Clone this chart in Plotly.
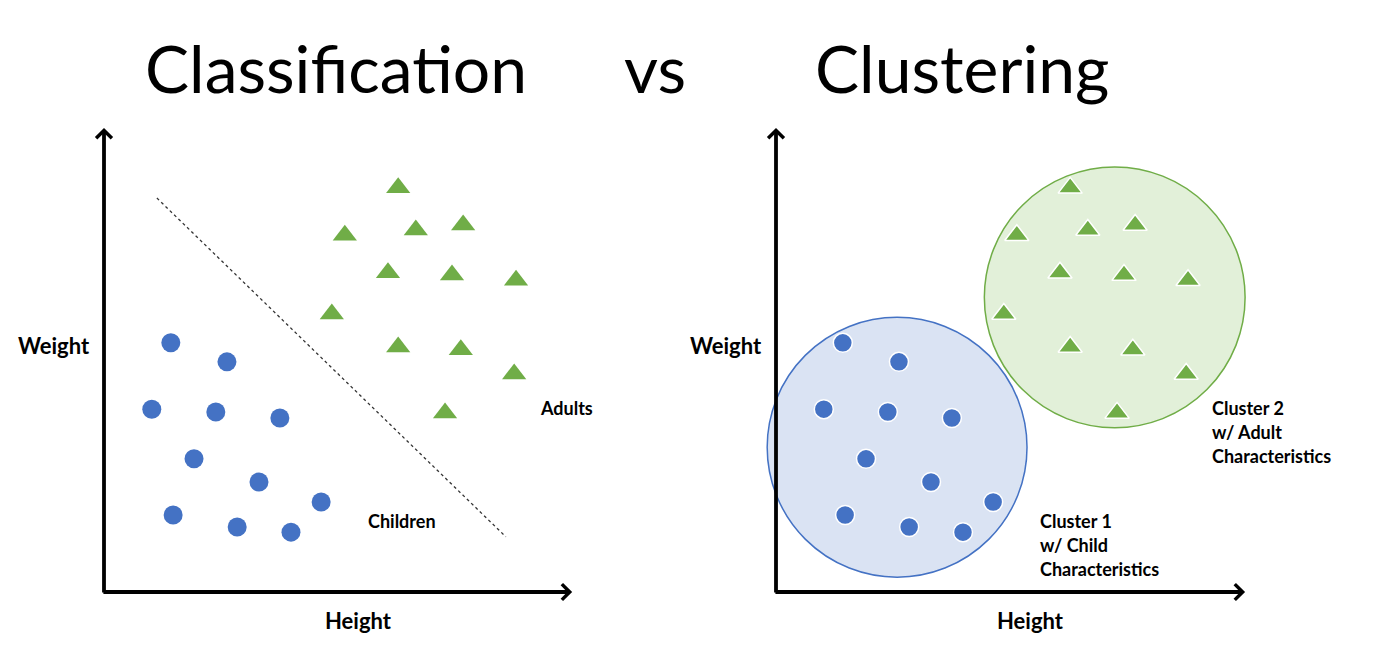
import plotly.graph_objects as go

# ---------------- data (Height / Weight, arbitrary units) ----------------
children_height = [14.4, 26.5, 10.3, 24.1, 37.9, 19.4, 33.4, 46.8, 14.9, 28.7, 40.3]
children_weight = [53.7, 49.6, 39.4, 38.8, 37.5, 28.7, 23.7, 19.4, 16.6, 14.0, 12.9]

adults_height = [63.4, 51.9, 67.2, 77.4, 61.2, 75.0, 88.8, 49.1, 63.4, 76.9, 88.4, 73.5]
adults_weight = [87.1, 76.9, 78.0, 79.1, 68.8, 68.3, 67.2, 59.9, 52.8, 52.2, 47.0, 38.6]

# decision boundary (classification)
boundary_height = [11.4, 86.6]
boundary_weight = [84.9, 11.9]

# clusters: centre (height, weight) and radius
cluster_names = ["Cluster 1", "Cluster 2"]
cluster_center_height = [26.1, 73.0]
cluster_center_weight = [31.2, 63.5]
cluster_radius = [28.0, 28.1]

# ---------------- styling / layout constants ----------------
W, H = 1400, 650
PX = 4.64                  # pixels per data unit
ORIGIN_L, ORIGIN_R, BASE = 104, 776, 592
PAD = 5
XMAX_L, XMAX_R, YMAX = 100.9, 101.1, 100.0

BLUE = "#4472C4"
GREEN = "#70AD47"
BLUE_FILL = "#DAE3F3"
GREEN_FILL = "#E2F0D9"
FONT = "Lato, 'Open Sans', sans-serif"

def xdom(origin):
    return [(origin - PAD * PX) / W, (origin + (100 + PAD) * PX) / W]

ydom = [(H - (BASE + PAD * PX)) / H, (H - (BASE - (100 + PAD) * PX)) / H]

def px_x(p):
    return p / W

def px_y(p):
    return (H - p) / H

fig = go.Figure()

for xa, ya, outline in (("x", "y", 0), ("x2", "y2", 1.5)):
    fig.add_trace(go.Scatter(
        x=children_height, y=children_weight, xaxis=xa, yaxis=ya,
        mode="markers", name="Children", showlegend=False,
        marker=dict(symbol="circle", size=19, color=BLUE,
                    line=dict(color="white", width=outline)),
        hoverinfo="skip"))
    fig.add_trace(go.Scatter(
        x=adults_height, y=adults_weight, xaxis=xa, yaxis=ya,
        mode="markers", name="Adults", showlegend=False,
        marker=dict(symbol="triangle-up", size=21, color=GREEN,
                    line=dict(color="white", width=outline)),
        hoverinfo="skip"))

fig.add_trace(go.Scatter(
    x=boundary_height, y=boundary_weight, xaxis="x", yaxis="y",
    mode="lines", showlegend=False, hoverinfo="skip",
    line=dict(color="#333333", width=1.3, dash="dot")))

# cluster circles
fills = [BLUE_FILL, GREEN_FILL]
lines = [BLUE, GREEN]
shapes = []
for i in range(len(cluster_names)):
    cx, cy, r = cluster_center_height[i], cluster_center_weight[i], cluster_radius[i]
    shapes.append(dict(type="circle", xref="x2", yref="y2",
                       x0=cx - r, x1=cx + r, y0=cy - r, y1=cy + r,
                       fillcolor=fills[i], line=dict(color=lines[i], width=1.5),
                       layer="below"))

annotations = []
# axis arrows
for xr, yr, xmax in (("x", "y", XMAX_L), ("x2", "y2", XMAX_R)):
    annotations.append(dict(x=xmax, y=0, ax=-0.45, ay=0, xref=xr, yref=yr,
                            axref=xr, ayref=yr, text="", showarrow=True,
                            arrowhead=4, arrowsize=0.8, arrowwidth=3.8,
                            arrowcolor="black"))
    annotations.append(dict(x=0, y=YMAX, ax=0, ay=-0.45, xref=xr, yref=yr,
                            axref=xr, ayref=yr, text="", showarrow=True,
                            arrowhead=4, arrowsize=0.8, arrowwidth=3.8,
                            arrowcolor="black"))

def label(text, xp, yp, size, xanchor="center"):
    annotations.append(dict(text=text, x=px_x(xp), y=px_y(yp), xref="paper", yref="paper",
                            showarrow=False, xanchor=xanchor, yanchor="middle",
                            font=dict(family=FONT, size=size, color="black")))

for off in (0, ORIGIN_R - ORIGIN_L):
    label("<b>Weight</b>", 54 + off, 345, 22)
    label("<b>Height</b>", 358 + off, 620, 22)

label("<b>Adults</b>", 538, 408, 18, "left")
label("<b>Children</b>", 366, 521, 18, "left")

cluster_lines = [["Cluster 1", "w/ Child", "Characteristics"],
                 ["Cluster 2", "w/ Adult", "Characteristics"]]
cluster_label_pos = [(1038, 521), (1210, 408)]
for lines_txt, (lx, ly) in zip(cluster_lines, cluster_label_pos):
    for k, t in enumerate(lines_txt):
        label("<b>%s</b>" % t, lx, ly + k * 24, 18, "left")

# titles
for txt, xc in (("Classification", 336), ("vs", 655), ("Clustering", 962)):
    annotations.append(dict(text=txt, x=px_x(xc), y=px_y(67), xref="paper", yref="paper",
                            showarrow=False, xanchor="center", yanchor="middle",
                            font=dict(family=FONT, size=66, color="black")))

ax_common = dict(visible=False, showgrid=False, zeroline=False, fixedrange=True)
fig.update_layout(
    width=W, height=H, margin=dict(l=0, r=0, t=0, b=0),
    paper_bgcolor="white", plot_bgcolor="rgba(0,0,0,0)",
    xaxis=dict(domain=xdom(ORIGIN_L), range=[-PAD, 100 + PAD], **ax_common),
    yaxis=dict(domain=ydom, range=[-PAD, 100 + PAD], **ax_common),
    xaxis2=dict(domain=xdom(ORIGIN_R), range=[-PAD, 100 + PAD], anchor="y2", **ax_common),
    yaxis2=dict(domain=ydom, range=[-PAD, 100 + PAD], anchor="x2", **ax_common),
    shapes=shapes, annotations=annotations, showlegend=False,
)

fig.write_html("out.html", config={"displayModeBar": False},
               post_script="document.body.style.margin='0';")
